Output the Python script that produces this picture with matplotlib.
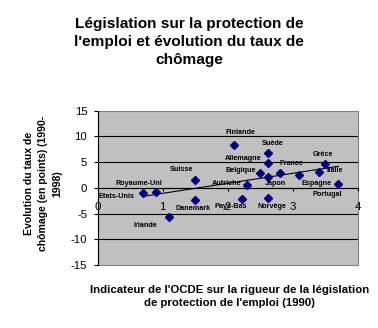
import numpy as np
import matplotlib
matplotlib.use("Agg")
import matplotlib.pyplot as plt
from matplotlib import font_manager as fm
from matplotlib.patches import Rectangle

# ---- data ----
countries = ["Etats-Unis", "Royaume-Uni", "Irlande", "Suisse", "Danemark", "Finlande",
             "Pays-Bas", "Autriche", "Belgique", "Suède", "Allemagne", "Japon",
             "Norvège", "France", "Espagne", "Italie", "Grèce", "Portugal"]
epl = [0.70, 0.90, 1.10, 1.50, 1.50, 2.10, 2.21, 2.30, 2.50, 2.61, 2.61, 2.61,
       2.61, 2.80, 3.10, 3.40, 3.50, 3.70]
unemp_change = [-1.0, -0.8, -5.7, 1.6, -2.35, 8.4, -2.15, 0.64, 2.93, 6.84, 4.75, 2.15,
                -1.95, 2.93, 2.54, 2.99, 4.55, 0.78]
# label offsets (pixels) relative to each point
label_dx = [-27, -17, -24, -14, -2, 6, -11, -21, -20, 5, -24, 8, 4, 12, 17, 16, -2, -11]
label_dy = [-3, 8, -8, 10, -9, 12, -8, 1, 2, 9, 5, -7, -9, 9, -9, 2, 10, -11]
xticks = [0, 1, 2, 3, 4]
yticks = [-15, -10, -5, 0, 5, 10, 15]

title = "Législation sur la protection de\nl'emploi et évolution du taux de\nchômage"
xlabel = "Indicateur de l'OCDE sur la rigueur de la législation\nde protection de l'emploi (1990)"
ylabel = "Evolution du taux de\nchômage (en points) (1990-\n1998)"

names = {f.name for f in fm.fontManager.ttflist}
narrow = "Liberation Sans Narrow" in names
fam = ["Liberation Sans Narrow", "Liberation Sans", "DejaVu Sans"] if narrow else ["Liberation Sans", "DejaVu Sans"]
k = 1.0 if narrow else 0.82
plt.rcParams["font.family"] = fam

fig = plt.figure(figsize=(3.78, 3.28), dpi=100)
fig.patch.set_facecolor("white")
ax = fig.add_axes([0.2585, 0.192, 0.947 - 0.2585, 0.6625 - 0.192])
ax.set_facecolor("#C0C0C0")

ax.set_xlim(0, 4)
ax.set_ylim(-15, 15)

# gridlines
for v in yticks:
    if -15 < v < 15:
        ax.axhline(v, color="black", lw=0.8, zorder=1)

# trendline (linear fit)
xs = np.array(epl)
ys = np.array(unemp_change)
b, a = np.polyfit(xs, ys, 1)
xl = np.array([xs.min(), xs.max()])
ax.plot(xl, a + b * xl, color="black", lw=0.8, zorder=2)

ax.plot(epl, unemp_change, linestyle="none", marker="D", markersize=4.2,
        color="#000080", zorder=3)

for c, x, y, dx, dy in zip(countries, epl, unemp_change, label_dx, label_dy):
    ax.annotate(c, (x, y), xytext=(dx, dy), textcoords="offset pixels",
                ha="center", va="center", fontsize=6.4 * k, fontweight="bold",
                color="black", zorder=4)

# spines
for s in ["top", "right"]:
    ax.spines[s].set_visible(False)
ax.spines["left"].set_color("black")
ax.spines["left"].set_linewidth(0.8)
ax.spines["bottom"].set_position(("data", 0))
ax.spines["bottom"].set_color("black")
ax.spines["bottom"].set_linewidth(0.8)
ax.add_patch(Rectangle((0, 0), 1, 1, transform=ax.transAxes, fill=False,
                       edgecolor="#808080", lw=0.8, zorder=0.5, clip_on=False))

ax.set_xticks(xticks)
ax.set_yticks(yticks)
ax.set_xticklabels([str(t) for t in xticks])
ax.set_yticklabels([str(t) for t in yticks])
ax.tick_params(axis="x", direction="out", length=2.5, width=0.8, pad=8,
               labelsize=10 * k)
ax.tick_params(axis="y", direction="out", length=3, width=0.8, pad=4.5,
               labelsize=10 * k)

fig.text(0.5, 0.872, title, ha="center", va="center", fontsize=13.5 * k,
         fontweight="bold", linespacing=1.35)
fig.text(0.607, 0.095, xlabel, ha="center", va="center", fontsize=10 * k,
         fontweight="bold", linespacing=1.4)
fig.text(0.114, 0.44, ylabel, ha="center", va="center", rotation=90,
         fontsize=9.2 * k, fontweight="bold", linespacing=1.5)

fig.savefig("out.png", dpi=100, facecolor="white")
